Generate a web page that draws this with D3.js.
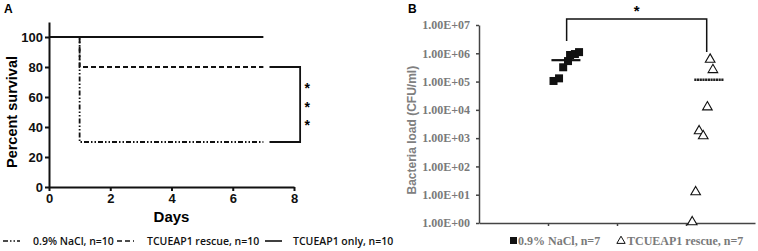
<!DOCTYPE html>
<html>
<head>
<meta charset="utf-8">
<script src="https://cdn.jsdelivr.net/npm/d3@7"></script>
<style>
  body { margin: 0; background: #fff; }
  svg { display: block; }
</style>
</head>
<body>
<svg id="drawing_region"></svg>
<script>
// Panel A: survival (step curves)
const surv_days = [0, 1, 7];
const nacl_surv = [100, 30, 30];
const rescue_surv = [100, 80, 80];
const only_days = [0, 7];
const only_surv = [100, 100];
const surv_xticks = [0, 2, 4, 6, 8];
const surv_yticks = [0, 20, 40, 60, 80, 100];
const legend_a = ['0.9% NaCl, n=10', 'TCUEAP1 rescue, n=10', 'TCUEAP1 only, n=10'];

// Panel B: bacteria load
const nacl_load = [1.05e5, 1.3e5, 3.2e5, 5.3e5, 8.7e5, 9.4e5, 1.1e6];
const nacl_jitter = [1.08, 1.16, 1.22, 1.29, 1.32, 1.39, 1.45];
const rescue_load = [5.6e5, 2.4e5, 1.15e4, 1.65e3, 1.1e3, 11.5, 1];
const rescue_jitter = [3.35, 3.39, 3.31, 3.19, 3.25, 3.14, 3.09];
const load_yticks = [1, 10, 100, 1e3, 1e4, 1e5, 1e6, 1e7];
const load_xticks = [1, 2, 3];
const legend_b = ['0.9% NaCl, n=7', 'TCUEAP1 rescue, n=7'];

const svg = d3.select('#drawing_region')
    .attr('width', 758)
    .attr('height', 251);

const arial = 'Liberation Sans, Arial, sans-serif';
const serif = 'Liberation Serif, Times New Roman, serif';

// ---------- Panel A ----------
const xA = d3.scaleLinear().domain([0, 8]).range([49, 294]);
const yA = d3.scaleLinear().domain([0, 110]).range([187, 22]);

svg.append('text').text('A')
    .attr('x', 4).attr('y', 13)
    .attr('font-family', arial).attr('font-weight', 'bold').attr('font-size', 12);

const gA = svg.append('g');

const xaxisA = d3.axisBottom(xA).tickValues(surv_xticks).tickSize(4).tickPadding(3).tickSizeOuter(0);
const yaxisA = d3.axisLeft(yA).tickValues(surv_yticks).tickSize(4).tickPadding(2).tickSizeOuter(0);

gA.append('g').attr('transform', `translate(0, ${yA(0)})`).call(xaxisA);
gA.append('g').attr('transform', `translate(${xA(0)}, 0)`).call(yaxisA);

gA.selectAll('.domain, .tick line').attr('stroke', '#111').attr('stroke-width', 2);
gA.selectAll('.tick text')
    .attr('font-family', arial).attr('font-weight', 'bold').attr('font-size', 13).attr('fill', '#111');

gA.append('text').text('Days')
    .attr('x', xA(4)).attr('y', 222)
    .attr('text-anchor', 'middle')
    .attr('font-family', arial).attr('font-weight', 'bold').attr('font-size', 15);

gA.append('text').text('Percent survival')
    .attr('transform', `translate(17, ${yA(50)}) rotate(-90)`)
    .attr('text-anchor', 'middle')
    .attr('font-family', arial).attr('font-weight', 'bold').attr('font-size', 14.5);

const stepLine = d3.line()
    .x(d => xA(d[0]))
    .y(d => yA(d[1]))
    .curve(d3.curveStepAfter);

const dashNaCl = '5,2,1.5,2,1.5,2';
const dashRescue = '5,3';

gA.append('path')
    .attr('d', stepLine(d3.zip(surv_days, nacl_surv)))
    .attr('fill', 'none').attr('stroke', '#111').attr('stroke-width', 1.8)
    .attr('stroke-dasharray', dashNaCl);

gA.append('path')
    .attr('d', stepLine(d3.zip(surv_days, rescue_surv)))
    .attr('fill', 'none').attr('stroke', '#111').attr('stroke-width', 1.8)
    .attr('stroke-dasharray', dashRescue);

gA.append('path')
    .attr('d', stepLine(d3.zip(only_days, only_surv)))
    .attr('fill', 'none').attr('stroke', '#111').attr('stroke-width', 1.8);

// significance bracket
const bx0 = xA(7.2), bx1 = xA(8.2);
gA.append('path')
    .attr('d', `M${bx0},${yA(rescue_surv[1])}H${bx1}V${yA(nacl_surv[1])}H${bx0}`)
    .attr('fill', 'none').attr('stroke', '#111').attr('stroke-width', 1.8);

[0.25, 0.5, 0.75].forEach(f => {
    const yy = yA(rescue_surv[1]) + f * (yA(nacl_surv[1]) - yA(rescue_surv[1]));
    gA.append('text').text('*')
        .attr('x', bx1 + 7).attr('y', yy + 7)
        .attr('text-anchor', 'middle')
        .attr('font-family', arial).attr('font-weight', 'bold').attr('font-size', 14);
});

// legend A
const legA = svg.append('g').attr('transform', 'translate(0, 241)');
const legDash = [dashNaCl, dashRescue, null];
const legX = [3, 117, 265];
legend_a.forEach((t, i) => {
    legA.append('line')
        .attr('x1', legX[i]).attr('x2', legX[i] + 17)
        .attr('y1', 0).attr('y2', 0)
        .attr('stroke', '#111').attr('stroke-width', 1.6)
        .attr('stroke-dasharray', legDash[i]);
    legA.append('text').text(t)
        .attr('x', legX[i] + (i == 2 ? 28 : 30)).attr('y', 4)
        .attr('font-family', 'Open Sans, sans-serif').attr('font-weight', 600).attr('font-size', 10.5)
        .attr('fill', '#111');
});

// ---------- Panel B ----------
const xB = d3.scaleLinear().domain([0, 4]).range([479, 755]);
const yB = d3.scaleLog().domain([1, 1e7]).range([223, 25]);

svg.append('text').text('B')
    .attr('x', 408).attr('y', 13)
    .attr('font-family', arial).attr('font-weight', 'bold').attr('font-size', 12);

const gB = svg.append('g');

const xaxisB = d3.axisBottom(xB).tickValues(load_xticks).tickSize(3).tickFormat('').tickSizeOuter(0);
const yaxisB = d3.axisLeft(yB).tickValues(load_yticks).tickSize(3).tickPadding(6).tickSizeOuter(0)
    .tickFormat(d => '1.00E+' + String(Math.round(Math.log10(d))).padStart(2, '0'));

gB.append('g').attr('transform', `translate(0, ${yB(1)})`).call(xaxisB);
gB.append('g').attr('transform', `translate(${xB(0)}, 0)`).call(yaxisB);

gB.selectAll('.domain, .tick line').attr('stroke', '#444').attr('stroke-width', 1.5);
gB.selectAll('.tick text')
    .attr('font-family', serif).attr('font-weight', 'bold').attr('font-size', 12).attr('fill', '#7a7a7a');

gB.append('text').text('Bacteria load (CFU/ml)')
    .attr('transform', `translate(416, ${yB(1e3) - 8}) rotate(-90)`)
    .attr('text-anchor', 'middle')
    .attr('font-family', arial).attr('font-weight', 'bold').attr('font-size', 12)
    .attr('fill', '#808080');

// squares
gB.selectAll('.sq')
    .data(d3.zip(nacl_jitter, nacl_load))
    .enter()
    .append('rect')
    .attr('x', d => xB(d[0]) - 4)
    .attr('y', d => yB(d[1]) - 4)
    .attr('width', 8).attr('height', 8)
    .attr('fill', '#111');

// triangles
const tri = d3.symbol().type(d3.symbolTriangle).size(40);
gB.selectAll('.tri')
    .data(d3.zip(rescue_jitter, rescue_load))
    .enter()
    .append('path')
    .attr('d', tri)
    .attr('transform', d => `translate(${xB(d[0])}, ${yB(d[1]) - 1})`)
    .attr('fill', '#fff').attr('stroke', '#111').attr('stroke-width', 1.1);

// means
const naclMean = d3.mean(nacl_load);
const rescueMean = d3.mean(rescue_load);
gB.append('line')
    .attr('x1', xB(1.05)).attr('x2', xB(1.47))
    .attr('y1', yB(naclMean)).attr('y2', yB(naclMean))
    .attr('stroke', '#111').attr('stroke-width', 2.2);
gB.append('line')
    .attr('x1', xB(3.12)).attr('x2', xB(3.55))
    .attr('y1', yB(rescueMean)).attr('y2', yB(rescueMean))
    .attr('stroke', '#222').attr('stroke-width', 2.6)
    .attr('stroke-dasharray', '2.2,0.5');

// bracket
const byTop = 19;
gB.append('path')
    .attr('d', `M${xB(1.27)},41V${byTop}H${xB(3.3)}V52`)
    .attr('fill', 'none').attr('stroke', '#111').attr('stroke-width', 1.5);
gB.append('text').text('*')
    .attr('x', (xB(1.27) + xB(3.3)) / 2).attr('y', 16)
    .attr('text-anchor', 'middle')
    .attr('font-family', arial).attr('font-weight', 'bold').attr('font-size', 15);

// legend B
const legB = svg.append('g').attr('transform', 'translate(0, 245)');
legB.append('rect').attr('x', 510).attr('y', -8).attr('width', 7).attr('height', 7).attr('fill', '#111');
legB.append('text').text(legend_b[0])
    .attr('x', 518).attr('y', 0)
    .attr('font-family', serif).attr('font-weight', 'bold').attr('font-size', 12).attr('fill', '#7a7a7a');
legB.append('path').attr('d', d3.symbol().type(d3.symbolTriangle).size(30))
    .attr('transform', 'translate(621, -4)')
    .attr('fill', '#fff').attr('stroke', '#111').attr('stroke-width', 1);
legB.append('text').text(legend_b[1])
    .attr('x', 627).attr('y', 0)
    .attr('font-family', serif).attr('font-weight', 'bold').attr('font-size', 12).attr('fill', '#7a7a7a');
</script>
</body>
</html>
